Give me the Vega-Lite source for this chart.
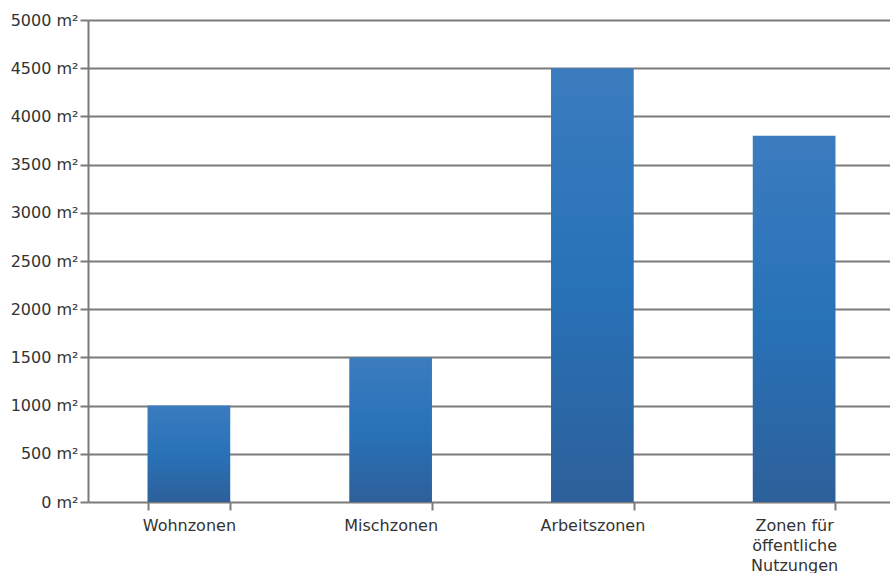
{
  "$schema": "https://vega.github.io/schema/vega-lite/v6.json",
  "width": 807,
  "height": 482,
  "autosize": {"type": "none"},
  "padding": {"left": 88, "top": 20, "right": 0, "bottom": 71},
  "background": "white",
  "data": {
    "values": [
      {"zone": "Wohnzonen", "area": 1000},
      {"zone": "Mischzonen", "area": 1500},
      {"zone": "Arbeitszonen", "area": 4500},
      {"zone": "Zonen für öffentliche Nutzungen", "area": 3800}
    ]
  },
  "config": {
    "view": {"stroke": null},
    "font": "DejaVu Sans",
    "axis": {
      "labelFont": "DejaVu Sans",
      "labelFontSize": 16,
      "labelColor": "#333333",
      "domainColor": "#7a7a7a",
      "tickColor": "#7a7a7a",
      "gridColor": "#7a7a7a",
      "domainWidth": 2,
      "tickWidth": 2,
      "gridWidth": 2,
      "gridOpacity": 1
    }
  },
  "mark": {
    "type": "bar",
    "color": {
      "gradient": "linear",
      "x1": 0, "y1": 0, "x2": 0, "y2": 1,
      "stops": [
        {"offset": 0, "color": "#3b7cbe"},
        {"offset": 0.5, "color": "#2872b8"},
        {"offset": 1, "color": "#2d609a"}
      ]
    }
  },
  "encoding": {
    "x": {
      "field": "zone",
      "type": "nominal",
      "sort": null,
      "title": null,
      "scale": {"paddingInner": 0.59, "paddingOuter": 0.295},
      "axis": {
        "labelAngle": 0,
        "tickBand": "extent",
        "tickSize": 8,
        "domain": false,
        "labelPadding": 7,
        "labelLineHeight": 20,
        "labelBaseline": "top",
        "labelExpr": "datum.value == 'Zonen für öffentliche Nutzungen' ? ['Zonen für', 'öffentliche', 'Nutzungen'] : datum.value"
      }
    },
    "y": {
      "field": "area",
      "type": "quantitative",
      "title": null,
      "scale": {"domain": [0, 5000]},
      "axis": {
        "values": [0, 500, 1000, 1500, 2000, 2500, 3000, 3500, 4000, 4500, 5000],
        "tickSize": 8,
        "labelPadding": 2,
        "grid": true,
        "labelExpr": "datum.value + ' m²'"
      }
    }
  }
}
